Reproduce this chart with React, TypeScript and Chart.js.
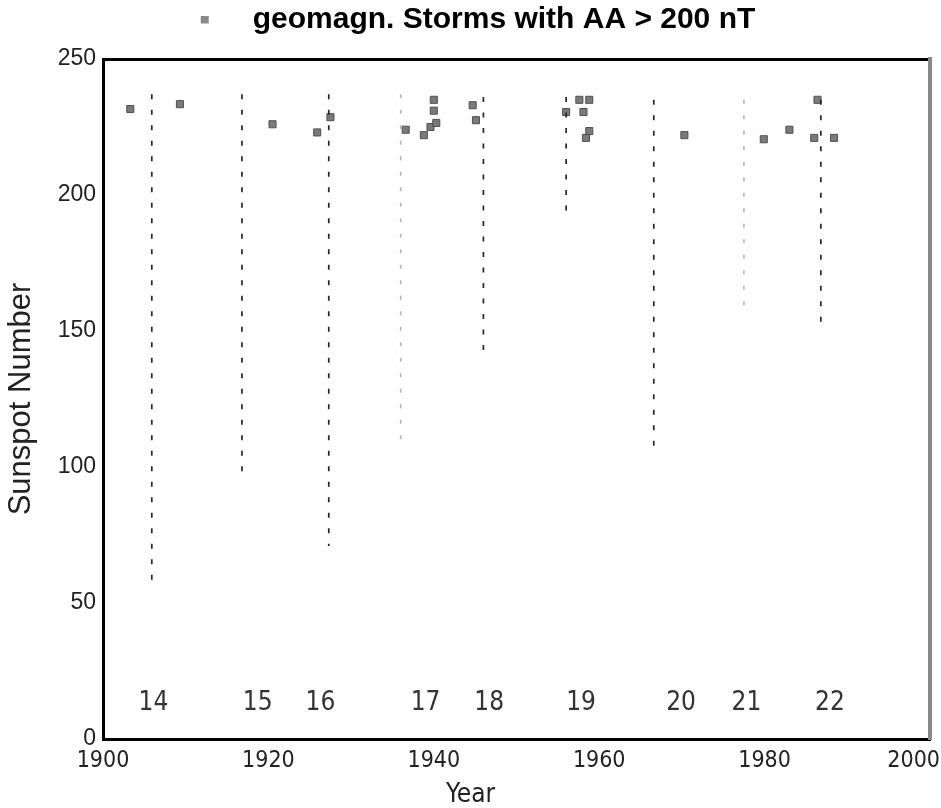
import React, { useEffect, useRef } from 'react';
import { Chart, registerables } from 'chart.js';

Chart.register(...registerables);

// ---- data ----
const xTickValues = [1900, 1920, 1940, 1960, 1980, 2000];
const yTickValues = [0, 50, 100, 150, 200, 250];

const stormYears = [
  1903.3, 1909.3, 1920.5, 1925.9, 1927.5, 1936.6, 1938.8, 1939.6, 1940.3, 1940.0, 1940.0,
  1944.7, 1945.1, 1956.0, 1957.6, 1958.8, 1958.1, 1958.4, 1958.8, 1970.3, 1979.9, 1983.0,
  1986.4, 1986.0, 1988.4,
];
const stormValues = [
  231.6, 233.4, 226, 223, 228.6, 224, 222, 225, 226.5, 235, 231,
  233, 227.5, 230.5, 235, 235, 230.5, 221, 223.5, 222, 220.5, 224,
  235, 221, 221,
];

const cycleYears = [1905.9, 1916.8, 1927.3, 1936.0, 1946.0, 1956.0, 1966.6, 1977.5, 1986.8];
const cycleMaxima = [55, 95, 71, 107, 141, 194, 105, 158, 152];
const cycleTops = [237, 237, 237, 237, 236, 236, 235, 235, 235];
const cycleFaint = [false, false, false, true, false, false, false, true, false];

const cycleNumbers = ['14', '15', '16', '17', '18', '19', '20', '21', '22'];
const cycleLabelYears = [1906.1, 1918.7, 1926.3, 1939.0, 1946.7, 1957.8, 1969.9, 1977.8, 1987.9];
const cycleLabelValue = 13;

const legendText = 'geomagn. Storms with AA > 200 nT';
const xTitle = 'Year';
const yTitle = 'Sunspot Number';

const SANS = '"Liberation Sans", Arial, sans-serif';
const NARROW = '"Liberation Sans Narrow", "DejaVu Sans Condensed", "Liberation Sans", sans-serif';

export default function App() {
  const ref = useRef<HTMLCanvasElement | null>(null);

  useEffect(() => {
    document.body.style.margin = '0';
    const canvas = ref.current;
    if (!canvas) return;

    const marker = document.createElement('canvas');
    marker.width = 52;
    marker.height = 9;
    const mctx = marker.getContext('2d');
    if (mctx) {
      mctx.fillStyle = '#8a8a8a';
      mctx.fillRect(15, 0, 8, 8);
    }

    const datasets: any[] = cycleYears.map((yr, i) => ({
      label: 'Cycle ' + cycleNumbers[i],
      data: [
        { x: yr, y: cycleTops[i] },
        { x: yr, y: cycleMaxima[i] },
      ],
      showLine: true,
      borderColor: cycleFaint[i] ? '#b8b8b8' : '#262626',
      borderWidth: 1.7,
      borderDash: cycleFaint[i] ? [4, 11.5] : [5, 10.5],
      pointRadius: 0,
      pointHoverRadius: 0,
    }));
    datasets.push({
      label: legendText,
      data: stormYears.map((x, i) => ({ x, y: stormValues[i] })),
      pointStyle: 'rect',
      pointRadius: 5,
      backgroundColor: '#7a7a7a',
      borderColor: '#505050',
      borderWidth: 1,
      showLine: false,
    });
    const stormIndex = datasets.length - 1;

    const cycleLabelPlugin = {
      id: 'cycleLabels',
      afterDatasetsDraw(chart: any) {
        const { ctx, scales } = chart;
        const xs = scales.x;
        const ys = scales.y;
        ctx.save();
        ctx.font = '26px ' + NARROW;
        ctx.fillStyle = '#333333';
        ctx.textAlign = 'center';
        ctx.textBaseline = 'middle';
        cycleNumbers.forEach((t, i) => {
          ctx.fillText(t, xs.getPixelForValue(cycleLabelYears[i]), ys.getPixelForValue(cycleLabelValue));
        });
        ctx.restore();
      },
    };

    const lastTickPlugin = {
      id: 'lastTick',
      afterDraw(chart: any) {
        const xs = chart.scales.x;
        const items = xs.getLabelItems ? xs.getLabelItems() : [];
        const item = items[items.length - 1];
        if (!item) return;
        const { ctx } = chart;
        ctx.save();
        ctx.font = '23px ' + NARROW;
        ctx.fillStyle = '#222222';
        ctx.textAlign = 'right';
        ctx.textBaseline = item.options.textBaseline || 'middle';
        const y = item.options.translation[1] + (item.textOffset || 0);
        ctx.fillText(String(xTickValues[xTickValues.length - 1]), chart.width - 1, y);
        ctx.restore();
      },
    };

    const chart = new Chart(canvas, {
      type: 'scatter',
      data: { datasets },
      options: {
        animation: false,
        responsive: true,
        maintainAspectRatio: false,
        layout: { padding: { top: 0, left: 0, right: 0, bottom: 0 } },
        plugins: {
          tooltip: { enabled: false },
          legend: {
            display: true,
            position: 'top',
            onClick: () => {},
            labels: {
              usePointStyle: true,
              pointStyleWidth: 52,
              padding: 5,
              color: '#111111',
              font: { size: 30, weight: 'bold', family: SANS },
              generateLabels: () => [
                {
                  text: legendText,
                  pointStyle: marker as any,
                  fillStyle: '#8a8a8a',
                  strokeStyle: '#8a8a8a',
                  lineWidth: 0,
                  hidden: false,
                  datasetIndex: stormIndex,
                },
              ],
            },
          },
          title: {
            display: true,
            position: 'bottom',
            text: xTitle,
            color: '#222222',
            font: { size: 26, weight: 'normal', family: NARROW, lineHeight: 1 },
            padding: { top: 13, bottom: 0 },
          },
        },
        scales: {
          x: {
            type: 'linear',
            position: 'bottom',
            min: 1900,
            max: 2000,
            afterBuildTicks: (s: any) => {
              s.ticks = xTickValues.map((v) => ({ value: v }));
            },
            ticks: {
              callback: (v: any) => String(v),
              color: (c: any) => (c.tick && c.tick.value === 2000 ? 'rgba(0,0,0,0)' : '#222222'),
              font: { size: 23, family: NARROW },
              padding: 8,
              maxRotation: 0,
              autoSkip: false,
            },
            grid: { display: false, drawTicks: false },
            border: { display: true, color: '#000000', width: 3 },
            afterFit: (s: any) => {
              s.height = 30;
              s.paddingLeft = 0;
              s.paddingRight = 0;
            },
          },
          x2: {
            type: 'linear',
            position: 'top',
            min: 1900,
            max: 2000,
            ticks: { display: false },
            grid: { display: false, drawTicks: false },
            border: { display: true, color: '#000000', width: 3 },
            afterFit: (s: any) => {
              s.height = 14;
              s.paddingLeft = 0;
              s.paddingRight = 0;
            },
          },
          y: {
            type: 'linear',
            position: 'left',
            min: 0,
            max: 250,
            afterBuildTicks: (s: any) => {
              s.ticks = yTickValues.map((v) => ({ value: v }));
            },
            ticks: {
              callback: (v: any) => String(v),
              color: '#222222',
              font: { size: 23, family: SANS },
              padding: 7,
            },
            grid: { display: false, drawTicks: false },
            border: { display: true, color: '#000000', width: 3 },
            title: {
              display: true,
              text: yTitle,
              color: '#222222',
              font: { size: 31, family: SANS },
              padding: { top: 3, bottom: 0 },
            },
            afterFit: (s: any) => {
              s.width = 103;
              s.paddingTop = 0;
              s.paddingBottom = 0;
            },
          },
          y2: {
            type: 'linear',
            position: 'right',
            min: 0,
            max: 250,
            ticks: { display: false },
            grid: { display: false, drawTicks: false },
            border: { display: true, color: '#8a8a8a', width: 4 },
            afterFit: (s: any) => {
              s.width = 11;
              s.paddingTop = 0;
              s.paddingBottom = 0;
            },
          },
        },
      },
      plugins: [cycleLabelPlugin, lastTickPlugin],
    } as any);

    return () => {
      chart.destroy();
    };
  }, []);

  return (
    <div style={{ width: 941, height: 808, position: 'relative', background: '#ffffff' }}>
      <canvas ref={ref} />
    </div>
  );
}
